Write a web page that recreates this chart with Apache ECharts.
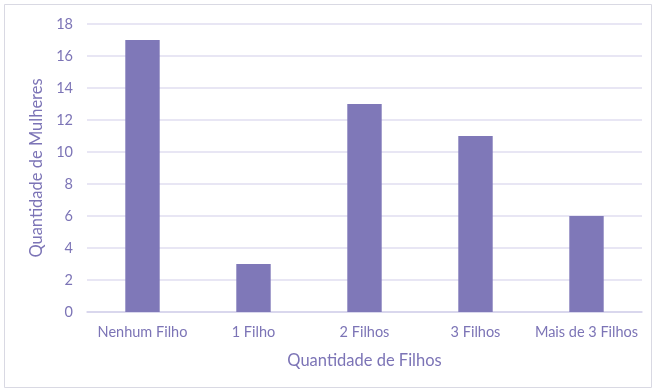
<!DOCTYPE html>
<html><head><meta charset="utf-8">
<script src="https://cdn.jsdelivr.net/npm/echarts@6/dist/echarts.min.js"></script>
<style>html,body{margin:0;padding:0;background:#fff}#c{width:653px;height:392px}</style>
</head><body><div id="c"></div>
<script>
const categories = ["Nenhum Filho", "1 Filho", "2 Filhos", "3 Filhos", "Mais de 3 Filhos"];
const values = [17, 3, 13, 11, 6];
const yTicks = { min: 0, max: 18, interval: 2 };
const xTitle = "Quantidade de Filhos";
const yTitle = "Quantidade de Mulheres";

const txt = "#7C74B6";
const chart = echarts.init(document.getElementById('c'));
chart.setOption({
  animation: false,
  textStyle: { fontFamily: "Lato" },
  graphic: [{ type: 'rect', shape: { x: 4.5, y: 4.5, width: 647, height: 383 }, style: { fill: 'none', stroke: '#D9D9E3', lineWidth: 1 } }],
  grid: { left: 87, right: 11, top: 24, bottom: 80 },
  xAxis: {
    type: 'category', data: categories,
    name: xTitle, nameLocation: 'middle', nameGap: 40,
    nameTextStyle: { color: txt, fontSize: 16.5, fontFamily: "Lato" },
    axisLine: { lineStyle: { color: '#D4D2EA', width: 1.5 } },
    axisTick: { show: false },
    axisLabel: { color: txt, fontSize: 14.5, margin: 13, fontFamily: "Lato", interval: 0 }
  },
  yAxis: {
    type: 'value', min: yTicks.min, max: yTicks.max, interval: yTicks.interval,
    name: yTitle, nameLocation: 'middle', nameGap: 41,
    nameTextStyle: { color: txt, fontSize: 16.5, fontFamily: "Lato", verticalAlign: 'middle' },
    axisLine: { show: false }, axisTick: { show: false },
    axisLabel: { color: txt, fontSize: 14.5, margin: 14, fontFamily: "Lato" },
    splitLine: { lineStyle: { color: '#E0DEF0', width: 1.5 } }
  },
  series: [{ type: 'bar', data: values, barWidth: '31%', itemStyle: { color: '#7F78B8' } }]
});
</script></body></html>
